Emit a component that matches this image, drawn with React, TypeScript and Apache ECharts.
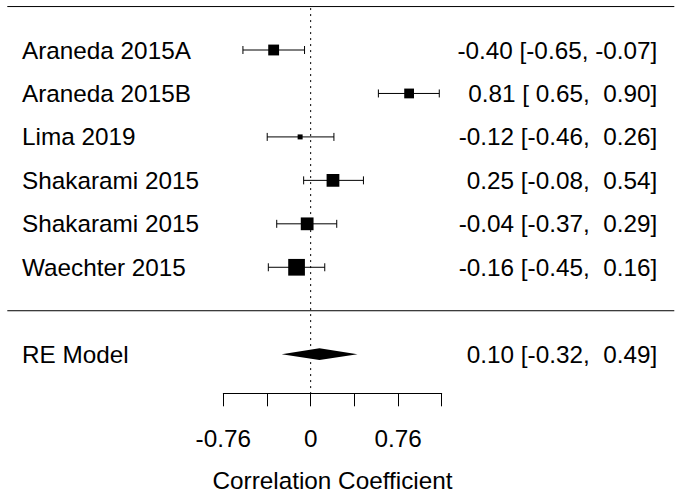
import React, { useEffect, useRef } from "react";
import * as echarts from "echarts";

// ---- data ----
const studies = [
  "Araneda 2015A",
  "Araneda 2015B",
  "Lima 2019",
  "Shakarami 2015",
  "Shakarami 2015",
  "Waechter 2015",
];
const estimates = [-0.4, 0.81, -0.12, 0.25, -0.04, -0.16];
const ciLower = [-0.65, 0.65, -0.46, -0.08, -0.37, -0.45];
const ciUpper = [-0.07, 0.9, 0.26, 0.54, 0.29, 0.16];
const weights = [16.65, 16.55, 16.1, 16.83, 16.83, 17.2];

const summaryLabel = "RE Model";
const summaryEstimate = 0.1;
const summaryLower = -0.32;
const summaryUpper = 0.49;

// axis ticks are on the Fisher z scale, labels back-transformed to r
const axisTicksZ = [-1, -0.5, 0, 0.5, 1, 1.5];
const labeledTicksZ = [-1, 0, 1];
const xAxisTitle = "Correlation Coefficient";

const FONT = '"Liberation Sans", Arial, Helvetica, sans-serif';
const FS = 24.3;

const atanh = (r: number) => 0.5 * Math.log((1 + r) / (1 - r));
const pad = (v: number) => {
  const s = v.toFixed(2);
  return s.startsWith("-") ? s : "\u00A0" + s;
};
const ciText = (e: number, l: number, u: number) =>
  `${pad(e)} [${pad(l)}, ${pad(u)}]`;

export default function App() {
  const ref = useRef<HTMLDivElement>(null);

  useEffect(() => {
    if (!ref.current) return;
    const chart = echarts.init(ref.current, undefined, { renderer: "svg" });

    const k = studies.length;
    const topRow = k + 1;
    const sepRow = 0;
    const summaryRow = -1;
    const yMin = -1.9;

    const wMin = Math.min(...weights);
    const wMax = Math.max(...weights);
    const sizeOf = (w: number) => 5 + ((w - wMin) / (wMax - wMin)) * 11.7;

    const studyData = studies.map((_, i) => [
      atanh(estimates[i]),
      atanh(ciLower[i]),
      atanh(ciUpper[i]),
      k - i,
      i,
    ]);

    const textStyle = (text: string, x: number, y: number, align: string) => ({
      text,
      x,
      y,
      align,
      verticalAlign: "middle",
      fontSize: FS,
      fontFamily: FONT,
      fill: "#000",
    });

    const option: any = {
      animation: false,
      backgroundColor: "#fff",
      grid: {
        left: 223.3,
        width: 218.4,
        top: 6.55,
        height: 386.75,
        containLabel: false,
        outerBoundsMode: "none",
      },
      xAxis: {
        type: "value",
        min: axisTicksZ[0],
        max: axisTicksZ[axisTicksZ.length - 1],
        interval: 0.5,
        splitLine: { show: false },
        axisLine: { show: true, onZero: false, lineStyle: { color: "#000", width: 1 } },
        axisTick: { show: true, length: 13, lineStyle: { color: "#000", width: 1 } },
        axisLabel: {
          color: "#000",
          fontSize: FS,
          fontFamily: FONT,
          margin: 45,
          verticalAlign: "middle",
          formatter: (v: number) => {
            if (!labeledTicksZ.some((t) => Math.abs(t - v) < 1e-9)) return "";
            const r = Math.tanh(v);
            return Math.abs(r) < 1e-9 ? "0" : r.toFixed(2);
          },
        },
        name: xAxisTitle,
        nameLocation: "middle",
        nameGap: 87.5,
        nameTextStyle: {
          color: "#000",
          fontSize: FS,
          fontFamily: FONT,
          lineHeight: 18,
          verticalAlign: "middle",
        },
      },
      yAxis: { type: "value", min: yMin, max: topRow, show: false },
      series: [
        // horizontal separator lines
        {
          type: "custom",
          coordinateSystem: "cartesian2d",
          data: [[0, topRow], [0, sepRow]],
          encode: { x: 0, y: 1 },
          silent: true,
          renderItem: (_p: any, api: any) => {
            const y = api.coord([0, api.value(1)])[1];
            return {
              type: "line",
              shape: { x1: 7.3, y1: y, x2: 674.3, y2: y },
              style: { stroke: "#000", lineWidth: 1 },
            };
          },
        },
        // dotted reference line at 0
        {
          type: "custom",
          coordinateSystem: "cartesian2d",
          data: [[0, topRow, yMin]],
          encode: { x: 0, y: [1, 2] },
          silent: true,
          renderItem: (_p: any, api: any) => {
            const a = api.coord([api.value(0), api.value(1)]);
            const b = api.coord([api.value(0), api.value(2)]);
            return {
              type: "line",
              shape: { x1: a[0], y1: a[1] + 1.5, x2: b[0], y2: b[1] },
              style: { stroke: "#000", lineWidth: 1, lineDash: [2, 4] },
            };
          },
        },
        // studies
        {
          type: "custom",
          coordinateSystem: "cartesian2d",
          data: studyData,
          encode: { x: [0, 1, 2], y: 3 },
          silent: true,
          renderItem: (_p: any, api: any) => {
            const i = api.value(4);
            const row = api.value(3);
            const [x, y] = api.coord([api.value(0), row]);
            const xl = api.coord([api.value(1), row])[0];
            const xh = api.coord([api.value(2), row])[0];
            const s = sizeOf(weights[i]);
            const ln = { stroke: "#000", lineWidth: 1 };
            return {
              type: "group",
              children: [
                { type: "line", shape: { x1: xl, y1: y, x2: xh, y2: y }, style: ln },
                { type: "line", shape: { x1: xl, y1: y - 4, x2: xl, y2: y + 4 }, style: ln },
                { type: "line", shape: { x1: xh, y1: y - 4, x2: xh, y2: y + 4 }, style: ln },
                {
                  type: "rect",
                  shape: { x: x - s / 2, y: y - s / 2, width: s, height: s },
                  style: { fill: "#000" },
                },
                { type: "text", style: textStyle(studies[i], 22, y, "left") },
                {
                  type: "text",
                  style: textStyle(ciText(estimates[i], ciLower[i], ciUpper[i]), 657.3, y, "right"),
                },
              ],
            };
          },
        },
        // summary diamond
        {
          type: "custom",
          coordinateSystem: "cartesian2d",
          data: [[atanh(summaryEstimate), atanh(summaryLower), atanh(summaryUpper), summaryRow]],
          encode: { x: [0, 1, 2], y: 3 },
          silent: true,
          renderItem: (_p: any, api: any) => {
            const row = api.value(3);
            const [x, y] = api.coord([api.value(0), row]);
            const xl = api.coord([api.value(1), row])[0];
            const xh = api.coord([api.value(2), row])[0];
            const h = 5.9;
            return {
              type: "group",
              children: [
                {
                  type: "polygon",
                  shape: { points: [[xl, y], [x, y - h], [xh, y], [x, y + h]] },
                  style: { fill: "#000" },
                },
                { type: "text", style: textStyle(summaryLabel, 22, y, "left") },
                {
                  type: "text",
                  style: textStyle(ciText(summaryEstimate, summaryLower, summaryUpper), 657.3, y, "right"),
                },
              ],
            };
          },
        },
      ],
    };

    chart.setOption(option);
    return () => chart.dispose();
  }, []);

  return (
    <div
      ref={ref}
      style={{ position: "fixed", left: 0, top: 0, width: 680, height: 493, background: "#fff" }}
    />
  );
}
